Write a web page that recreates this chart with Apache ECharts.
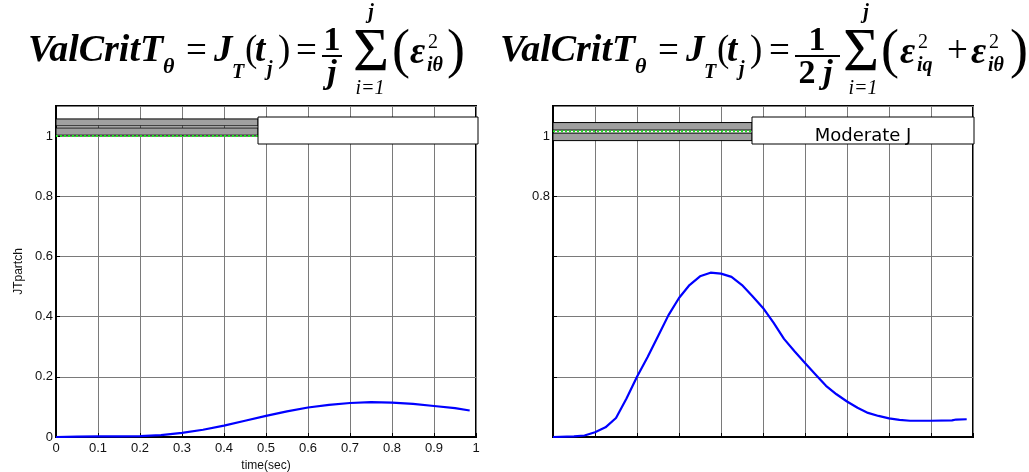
<!DOCTYPE html>
<html>
<head>
<meta charset="utf-8">
<style>
html, body {margin: 0; padding: 0; background: #fff;}
#main {width: 1029px; height: 472px;}
</style>
<script src="https://cdn.jsdelivr.net/npm/echarts@6/dist/echarts.min.js"></script>
</head>
<body>
<div id="main"></div>
<script>
// time samples and criterion values
var timeLeft = [0, 0.05, 0.1, 0.15, 0.2, 0.25, 0.3, 0.35, 0.4, 0.45, 0.5, 0.55, 0.6, 0.65, 0.7, 0.75, 0.8, 0.85, 0.9, 0.95, 0.985];
var jLeft = [0, 0.001, 0.002, 0.002, 0.003, 0.006, 0.014, 0.024, 0.038, 0.054, 0.07, 0.085, 0.098, 0.107, 0.113, 0.116, 0.114, 0.11, 0.103, 0.096, 0.088];

var timeRight = [0, 0.05, 0.075, 0.1, 0.125, 0.15, 0.175, 0.2, 0.225, 0.25, 0.275, 0.3, 0.325, 0.35, 0.375, 0.4, 0.425, 0.45, 0.475, 0.5,
    0.525, 0.55, 0.575, 0.6, 0.625, 0.65, 0.675, 0.7, 0.725, 0.75, 0.775, 0.8, 0.825, 0.85, 0.9, 0.95, 0.96, 0.985];
var jRight = [0, 0.002, 0.005, 0.016, 0.032, 0.063, 0.128, 0.2, 0.265, 0.335, 0.405, 0.462, 0.505, 0.534, 0.546, 0.543, 0.532, 0.505, 0.468, 0.429,
    0.38, 0.326, 0.285, 0.246, 0.208, 0.17, 0.142, 0.118, 0.097, 0.08, 0.07, 0.062, 0.057, 0.054, 0.054, 0.055, 0.058, 0.059];

// leftover legend strips (x from, x to, y from, y to)
var barsLeft = [[0, 0.481, 1.034, 1.057], [0, 0.481, 1.003, 1.027]];
var barsRight = [[0, 0.474, 1.02, 1.045], [0, 0.474, 0.985, 1.01]];
var greenLeft = 1.0, greenRight = 1.016;
var legendText = ['', 'Moderate J'];

function zip(xs, ys) {
    return xs.map(function (x, i) { return [x, ys[i]]; });
}
function areas(bars) {
    return bars.map(function (b) { return [{coord: [b[0], b[2]]}, {coord: [b[1], b[3]]}]; });
}

var serif = '"Liberation Serif", "Times New Roman", serif';
var styles = {
    bi: ['italic', 'bold'], b: ['normal', 'bold'], r: ['normal', 'normal'], i: ['italic', 'normal']
};
// formula pieces: text, x, y(middle), size, style, align
var formulaLeft = [
    ['ValCritT', 28, 51, 38, 'bi', 'left'], ['θ', 163, 67, 22, 'bi', 'left'], ['=', 186, 52, 37, 'r', 'left'],
    ['J', 214, 51, 37, 'bi', 'left'], ['T', 232, 73, 20, 'bi', 'left'], ['(', 245, 51, 37, 'r', 'left'],
    ['t', 255, 51, 37, 'bi', 'left'], ['j', 267, 70, 20, 'bi', 'left'], [')', 278, 51, 37, 'r', 'left'],
    ['=', 296, 52, 37, 'r', 'left'], ['1', 332, 41, 34, 'b', 'center'], ['j', 332, 74, 34, 'bi', 'center'],
    ['Σ', 371, 54, 62, 'r', 'center'], ['j', 371, 13, 20, 'bi', 'center'], ['i=1', 370, 89, 20, 'i', 'center'],
    ['(', 392, 53, 54, 'r', 'left'], ['ε', 410, 53, 37, 'bi', 'left'], ['2', 428, 43, 20, 'r', 'left'],
    ['iθ', 427, 66, 20, 'bi', 'left'], [')', 447, 53, 54, 'r', 'left']
];
var formulaRight = [
    ['ValCritT', 500, 51, 38, 'bi', 'left'], ['θ', 635, 67, 22, 'bi', 'left'], ['=', 658, 52, 37, 'r', 'left'],
    ['J', 686, 51, 37, 'bi', 'left'], ['T', 704, 73, 20, 'bi', 'left'], ['(', 717, 51, 37, 'r', 'left'],
    ['t', 727, 51, 37, 'bi', 'left'], ['j', 739, 70, 20, 'bi', 'left'], [')', 750, 51, 37, 'r', 'left'],
    ['=', 769, 52, 37, 'r', 'left'], ['1', 817, 41, 34, 'b', 'center'], ['2', 807, 74, 34, 'b', 'center'],
    ['j', 828, 74, 34, 'bi', 'center'],
    ['Σ', 861, 54, 62, 'r', 'center'], ['j', 866, 13, 20, 'bi', 'center'], ['i=1', 863, 89, 20, 'i', 'center'],
    ['(', 881, 53, 54, 'r', 'left'], ['ε', 900, 53, 37, 'bi', 'left'], ['2', 918, 43, 20, 'r', 'left'],
    ['iq', 917, 66, 20, 'bi', 'left'], ['+', 947, 52, 37, 'r', 'left'], ['ε', 971, 53, 37, 'bi', 'left'],
    ['2', 989, 43, 20, 'r', 'left'], ['iθ', 988, 66, 20, 'bi', 'left'], [')', 1010, 53, 54, 'r', 'left']
];

function formulaGraphics(pieces) {
    return pieces.map(function (p) {
        return {
            type: 'text', z: 100,
            style: {
                text: p[0], x: p[1], y: p[2], fontSize: p[3], fontFamily: serif,
                fontStyle: styles[p[4]][0], fontWeight: styles[p[4]][1],
                textAlign: p[5], textVerticalAlign: 'middle', fill: '#000'
            }
        };
    });
}

var myChart = echarts.init(document.getElementById('main'));

var axisFont = {fontFamily: '"Liberation Sans", Arial, sans-serif', fontSize: 13, color: '#111'};

function xAxisOf(idx, showLabels) {
    return {
        type: 'value', gridIndex: idx, min: 0, max: 1, interval: 0.1,
        name: showLabels ? 'time(sec)' : '', nameLocation: 'middle', nameGap: 21,
        nameTextStyle: {fontFamily: axisFont.fontFamily, fontSize: 12, color: '#111'},
        axisLine: {lineStyle: {color: '#000', width: 2}},
        axisTick: {inside: true, length: 4, lineStyle: {color: '#000'}},
        axisLabel: Object.assign({show: showLabels, margin: 5, formatter: function (v) { return +v.toFixed(1) + ''; }}, axisFont),
        splitLine: {show: true, lineStyle: {color: '#7a7a7a', width: 1}}
    };
}
function yAxisOf(idx, shown) {
    return {
        type: 'value', gridIndex: idx, min: 0, max: 1.1, interval: 0.2,
        name: idx === 0 ? 'JTpartch' : '', nameLocation: 'middle', nameGap: 31,
        nameTextStyle: {fontFamily: axisFont.fontFamily, fontSize: 12, color: '#111'},
        axisLine: {lineStyle: {color: '#000', width: 2}},
        axisTick: {inside: true, length: 4, lineStyle: {color: '#000'}},
        axisLabel: Object.assign({
            margin: 3, showMaxLabel: false,
            formatter: function (v) {
                var s = +v.toFixed(1) + '';
                return shown.indexOf(s) >= 0 ? s : '';
            }
        }, axisFont),
        splitLine: {show: true, lineStyle: {color: '#7a7a7a', width: 1}}
    };
}

function panelSeries(idx, data, bars, greenY) {
    return [{
        type: 'line', xAxisIndex: idx, yAxisIndex: idx,
        data: zip([0, 1], [greenY, greenY]), symbol: 'none', z: 3,
        lineStyle: {color: '#22dd22', width: 2, type: 'dotted'},
        markArea: {
            silent: true,
            itemStyle: {color: '#a0a0a0', borderColor: '#000', borderWidth: 1},
            data: areas(bars)
        }
    }, {
        type: 'line', xAxisIndex: idx, yAxisIndex: idx, data: data,
        symbol: 'none', z: 4, lineStyle: {color: '#0000ff', width: 2.2}
    }];
}

function legendBox(x, w, text) {
    return [
        {type: 'rect', z: 110, shape: {x: x, y: 117, width: w, height: 27},
            style: {fill: '#fff', stroke: '#000', lineWidth: 1}},
        {type: 'text', z: 111, style: {text: text, x: x + w / 2, y: 136, textAlign: 'center', textVerticalAlign: 'middle',
            fontFamily: '"DejaVu Sans", sans-serif', fontSize: 18, fill: '#000'}}
    ];
}

var option = {
    animation: false,
    backgroundColor: '#fff',
    grid: [
        {left: 56, right: 553, top: 106, bottom: 35, show: true, borderColor: '#000', borderWidth: 2,
            containLabel: false, outerBoundsMode: 'none'},
        {left: 553, right: 56, top: 106, bottom: 35, show: true, borderColor: '#000', borderWidth: 2,
            containLabel: false, outerBoundsMode: 'none'}
    ],
    xAxis: [xAxisOf(0, true), xAxisOf(1, false)],
    yAxis: [yAxisOf(0, ['0', '0.2', '0.4', '0.6', '0.8', '1']), yAxisOf(1, ['0.8', '1'])],
    series: panelSeries(0, zip(timeLeft, jLeft), barsLeft, greenLeft)
        .concat(panelSeries(1, zip(timeRight, jRight), barsRight, greenRight)),
    graphic: formulaGraphics(formulaLeft).concat(formulaGraphics(formulaRight)).concat([
        {type: 'line', z: 100, shape: {x1: 322, y1: 56, x2: 342, y2: 56}, style: {stroke: '#000', lineWidth: 2}},
        {type: 'line', z: 100, shape: {x1: 795, y1: 56, x2: 840, y2: 56}, style: {stroke: '#000', lineWidth: 2}}
    ]).concat(legendBox(258, 220, legendText[0])).concat(legendBox(752, 222, legendText[1]))
};

myChart.setOption(option);
</script>
</body>
</html>
